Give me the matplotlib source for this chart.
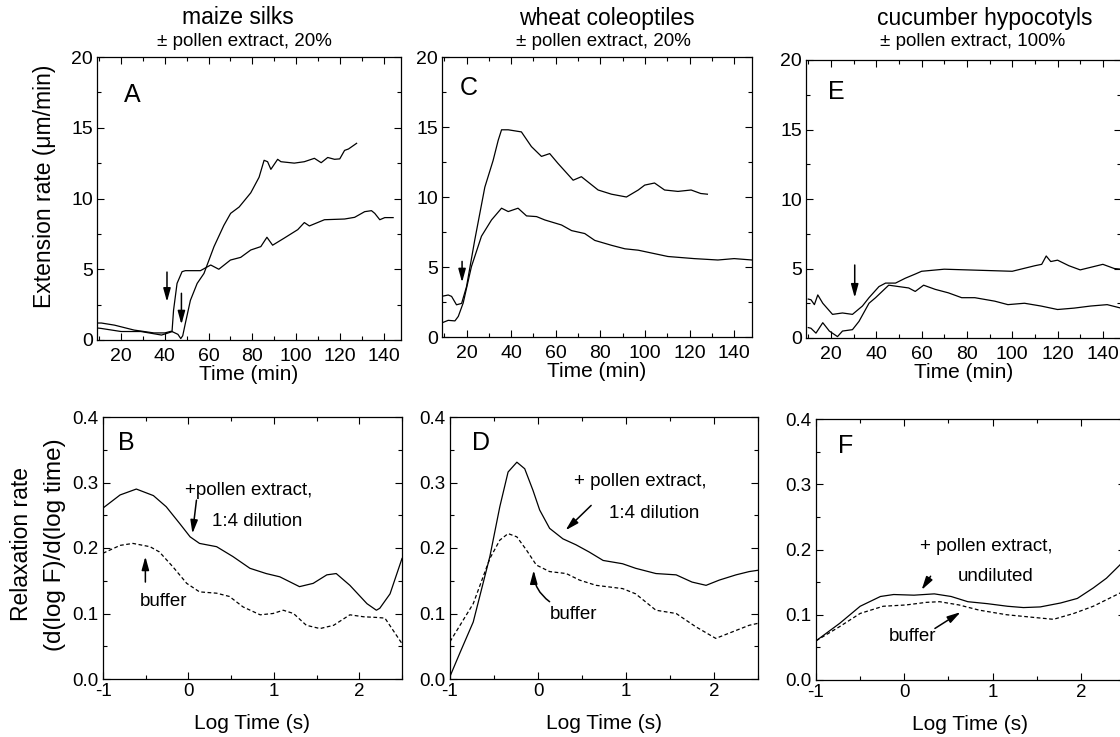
import matplotlib
matplotlib.use("Agg")
import matplotlib.pyplot as plt
from matplotlib.ticker import MultipleLocator, FormatStrFormatter

plt.rcParams['font.family'] = ['Liberation Sans', 'DejaVu Sans']
plt.rcParams['axes.unicode_minus'] = False

# ---- top row: extension rate vs time ----
a_late_t = [9, 11, 17, 26, 35, 40, 43, 46, 47.3, 48.2, 49.4, 51.7, 54.8, 57.9, 62.5, 67, 70.1, 74, 79.3, 83.1, 85.4, 87, 88.5, 91.6, 93.1, 99.2, 103.8, 108.4, 111.5, 114.5, 117.6, 120, 122.2, 124, 127.7]
a_late_v = [1.2, 1.2, 1.05, 0.7, 0.5, 0.5, 0.62, 0.4, 0.1, 0.3, 1.18, 2.8, 4.0, 4.7, 6.6, 8.1, 8.95, 9.4, 10.4, 11.5, 12.7, 12.6, 12.06, 12.77, 12.6, 12.5, 12.6, 12.84, 12.53, 12.9, 12.77, 12.8, 13.4, 13.5, 13.9]
a_early_t = [9, 10.8, 20, 29, 38.5, 41, 43.3, 44, 45.6, 47.9, 49.4, 56.3, 61, 64.7, 70, 74.7, 79.3, 83.9, 86.7, 89.3, 94.6, 100.8, 103.8, 106.1, 113, 122.2, 126.8, 131.4, 134.5, 136, 138.3, 140.6, 144.4]
a_early_v = [0.85, 0.82, 0.6, 0.6, 0.35, 0.47, 0.59, 2.1, 4.0, 4.83, 4.9, 4.9, 5.3, 5.0, 5.65, 5.84, 6.36, 6.6, 7.26, 6.7, 7.2, 7.8, 8.3, 8.06, 8.5, 8.55, 8.67, 9.07, 9.14, 8.95, 8.5, 8.65, 8.65]

c_high_t = [8.8, 11.8, 13.3, 15.5, 17.8, 20, 23.7, 28.2, 31.9, 34.2, 35.7, 38.7, 44.6, 49.1, 53.6, 57.3, 61, 67.8, 71.5, 79, 85, 91.7, 97, 99.9, 104.3, 108.8, 114.8, 120.7, 125, 128]
c_high_v = [2.9, 3.0, 2.9, 2.3, 2.4, 3.6, 6.94, 10.7, 12.6, 14.05, 14.8, 14.8, 14.65, 13.6, 12.9, 13.1, 12.4, 11.2, 11.45, 10.5, 10.2, 10.0, 10.5, 10.85, 11.0, 10.5, 10.4, 10.5, 10.25, 10.2]
c_low_t = [8.8, 11.8, 14.8, 16.3, 18.5, 22.2, 26.7, 31.2, 35.7, 38.7, 43.1, 46.9, 51.4, 55.1, 62.6, 67.1, 73, 77.5, 85, 91, 97, 110.3, 122, 132.7, 140, 148]
c_low_v = [1.0, 1.19, 1.15, 1.47, 2.43, 5.03, 7.2, 8.36, 9.2, 8.96, 9.2, 8.65, 8.6, 8.36, 8.0, 7.6, 7.39, 6.9, 6.55, 6.3, 6.2, 5.75, 5.6, 5.5, 5.6, 5.5]

e_high_t = [10, 11.2, 12.7, 14.2, 16.4, 20.7, 25.1, 29.5, 33.9, 36.8, 41.2, 44.1, 48.5, 52.8, 57.2, 60, 70, 80, 90, 100, 105, 110, 113, 115, 117, 120, 125, 130, 135, 140, 145, 148]
e_high_v = [2.8, 2.75, 2.4, 3.1, 2.5, 1.7, 1.8, 1.7, 2.3, 2.9, 3.7, 3.95, 3.95, 4.3, 4.6, 4.8, 4.95, 4.9, 4.85, 4.8, 5.0, 5.2, 5.3, 5.9, 5.5, 5.6, 5.2, 4.9, 5.1, 5.3, 5.0, 4.95]
e_low_t = [10, 11.2, 13.4, 16.4, 19.3, 22.9, 25.1, 29.5, 32.4, 36.8, 39.7, 45.5, 49.9, 54.3, 57.2, 60.9, 66, 71.8, 77.7, 83.5, 92.3, 98.1, 105.4, 112.7, 120, 127.3, 134.6, 141.9, 148]
e_low_v = [0.75, 0.7, 0.35, 1.1, 0.5, 0.1, 0.5, 0.6, 1.2, 2.5, 2.9, 3.8, 3.7, 3.6, 3.35, 3.8, 3.5, 3.25, 2.9, 2.9, 2.65, 2.4, 2.5, 2.3, 2.05, 2.15, 2.3, 2.4, 2.15]

# ---- bottom row: relaxation rate vs log time ----
b_pollen_x = [-1, -0.8, -0.61, -0.41, -0.26, -0.1, 0.02, 0.13, 0.33, 0.52, 0.72, 0.91, 1.07, 1.3, 1.46, 1.62, 1.73, 1.89, 2.09, 2.2, 2.24, 2.36, 2.5]
b_pollen_y = [0.261, 0.281, 0.29, 0.28, 0.263, 0.237, 0.217, 0.207, 0.202, 0.187, 0.169, 0.161, 0.156, 0.141, 0.146, 0.159, 0.161, 0.143, 0.115, 0.105, 0.108, 0.13, 0.184]
b_buffer_x = [-1, -0.8, -0.65, -0.45, -0.34, -0.18, -0.02, 0.13, 0.33, 0.48, 0.64, 0.84, 0.99, 1.11, 1.23, 1.38, 1.54, 1.7, 1.89, 2.05, 2.2, 2.3, 2.5]
b_buffer_y = [0.192, 0.204, 0.207, 0.202, 0.194, 0.171, 0.146, 0.133, 0.131, 0.126, 0.11, 0.098, 0.1, 0.105, 0.1, 0.082, 0.077, 0.082, 0.098, 0.095, 0.094, 0.093, 0.054]

d_pollen_x = [-1, -0.887, -0.736, -0.547, -0.434, -0.34, -0.24, -0.151, -0.057, 0.019, 0.132, 0.283, 0.43, 0.58, 0.74, 0.96, 1.11, 1.34, 1.57, 1.75, 1.91, 2.06, 2.25, 2.4, 2.5]
d_pollen_y = [0.004, 0.04, 0.087, 0.187, 0.263, 0.316, 0.331, 0.321, 0.288, 0.258, 0.23, 0.214, 0.205, 0.194, 0.181, 0.176, 0.169, 0.161, 0.159, 0.148, 0.143, 0.151, 0.159, 0.164, 0.166]
d_buffer_x = [-1, -0.736, -0.547, -0.434, -0.34, -0.24, -0.132, -0.019, 0.132, 0.321, 0.472, 0.66, 0.962, 1.11, 1.34, 1.57, 1.79, 2.02, 2.21, 2.4, 2.5]
d_buffer_y = [0.057, 0.115, 0.184, 0.212, 0.222, 0.217, 0.197, 0.174, 0.164, 0.161, 0.151, 0.143, 0.138, 0.13, 0.105, 0.1, 0.08, 0.062, 0.072, 0.082, 0.085]

f_pollen_x = [-1, -0.73, -0.5, -0.27, -0.12, 0.11, 0.34, 0.53, 0.72, 0.94, 1.17, 1.35, 1.54, 1.77, 1.96, 2.14, 2.29, 2.44, 2.5]
f_pollen_y = [0.06, 0.087, 0.113, 0.128, 0.131, 0.13, 0.132, 0.128, 0.12, 0.117, 0.113, 0.111, 0.112, 0.118, 0.125, 0.141, 0.156, 0.176, 0.185]
f_buffer_x = [-1, -0.73, -0.5, -0.24, 0.02, 0.25, 0.4, 0.62, 0.85, 1.16, 1.46, 1.69, 1.92, 2.14, 2.44, 2.5]
f_buffer_y = [0.06, 0.082, 0.102, 0.113, 0.115, 0.119, 0.12, 0.115, 0.107, 0.1, 0.096, 0.093, 0.102, 0.113, 0.133, 0.137]

W, H = 1120, 737
fig = plt.figure(figsize=(W / 100, H / 100), dpi=100)


def px_axes(left, right, top, bottom):
    return fig.add_axes([left / W, 1 - bottom / H, (right - left) / W, (bottom - top) / H])


def style(ax, xmaj, xmin, ymaj, ymin, size, xpad):
    ax.xaxis.set_major_locator(MultipleLocator(xmaj))
    ax.xaxis.set_minor_locator(MultipleLocator(xmin))
    ax.yaxis.set_major_locator(MultipleLocator(ymaj))
    ax.yaxis.set_minor_locator(MultipleLocator(ymin))
    ax.tick_params(which='both', direction='in', top=True, right=True, width=0.8)
    ax.tick_params(which='major', length=5, labelsize=size, pad=3)
    ax.tick_params(axis='x', which='major', pad=xpad)
    ax.tick_params(which='minor', length=3)
    for s in ax.spines.values():
        s.set_linewidth(0.9)


line_kw = dict(color='black', lw=0.9)
dash_kw = dict(color='black', lw=0.9, linestyle=(0, (3, 2)))
arr_kw = dict(arrowstyle='-|>,head_length=0.8,head_width=0.22', color='black', lw=1.1,
              mutation_scale=10, shrinkA=0, shrinkB=0)

top_boxes = [(97, 401, 57, 340), (442, 752, 57, 337), (806, 1121, 60, 338)]
top_data = [
    [(a_late_t, a_late_v), (a_early_t, a_early_v)],
    [(c_high_t, c_high_v), (c_low_t, c_low_v)],
    [(e_high_t, e_high_v), (e_low_t, e_low_v)],
]
letters_top = ['A', 'C', 'E']
letter_pos_top = [(21.5, 17.3), (17, 17.8), (18.5, 17.7)]
arrows_top = [
    [((41, 4.8), (41, 2.7)), ((47.6, 3.3), (47.6, 1.1))],
    [((18, 5.4), (18, 3.9))],
    [((30.5, 5.25), (30.5, 2.9))],
]
top_axes = []
for i, box in enumerate(top_boxes):
    ax = px_axes(*box)
    for tt, vv in top_data[i]:
        ax.plot(tt, vv, **line_kw)
    ax.set_xlim(9, 148)
    ax.set_ylim(0, 20)
    style(ax, 20, 10, 5, 2.5, 14, 6)
    ax.set_xlabel('Time (min)', fontsize=15, labelpad=0)
    ax.text(*letter_pos_top[i], letters_top[i], fontsize=18, va='center', ha='left')
    for start, end in arrows_top[i]:
        ax.annotate('', xy=end, xytext=start, arrowprops=arr_kw)
    top_axes.append(ax)
fig.text(45 / W, 1 - 186 / H, 'Extension rate (\u03bcm/min)', rotation=90, fontsize=16.5,
         ha='center', va='center')

bot_boxes = [(103, 402, 417, 679), (450, 758, 417, 679), (816, 1125, 419, 680)]
bot_data = [
    (b_pollen_x, b_pollen_y, b_buffer_x, b_buffer_y),
    (d_pollen_x, d_pollen_y, d_buffer_x, d_buffer_y),
    (f_pollen_x, f_pollen_y, f_buffer_x, f_buffer_y),
]
letters_bot = ['B', 'D', 'F']
letter_pos_bot = [(-0.82, 0.36), (-0.75, 0.36), (-0.75, 0.358)]
labels_bot = [
    [('+pollen extract,', (-0.043, 0.288)), ('1:4 dilution', (0.277, 0.24)), ('buffer', (-0.57, 0.118))],
    [('+ pollen extract,', (0.404, 0.301)), ('1:4 dilution', (0.811, 0.253)), ('buffer', (0.132, 0.098))],
    [('+ pollen extract,', (0.177, 0.205)), ('undiluted', (0.611, 0.158)), ('buffer', (-0.17, 0.066))],
]
arrows_bot = [
    [((0.094, 0.273), (0.047, 0.222), 0.0), ((-0.504, 0.148), (-0.504, 0.187), 0.0)],
    [((0.604, 0.265), (0.313, 0.227), 0.0), ((0.132, 0.118), (-0.049, 0.166), -0.25)],
    [((0.298, 0.159), (0.196, 0.138), 0.0), ((0.347, 0.079), (0.638, 0.104), 0.0)],
]
for i, box in enumerate(bot_boxes):
    ax = px_axes(*box)
    px_, py_, bx_, by_ = bot_data[i]
    ax.plot(px_, py_, **line_kw)
    ax.plot(bx_, by_, **dash_kw)
    ax.set_xlim(-1, 2.5)
    ax.set_ylim(0, 0.4)
    style(ax, 1, 0.5, 0.1, 0.05, 13.5, 3)
    ax.yaxis.set_major_formatter(FormatStrFormatter('%.1f'))
    ax.set_xlabel('Log Time (s)', fontsize=15, labelpad=10)
    ax.text(*letter_pos_bot[i], letters_bot[i], fontsize=18, va='center', ha='left')
    for txt, pos in labels_bot[i]:
        ax.text(*pos, txt, fontsize=13.5, va='center', ha='left')
    for start, end, rad in arrows_bot[i]:
        kw = dict(arr_kw)
        kw['connectionstyle'] = f'arc3,rad={rad}'
        ax.annotate('', xy=end, xytext=start, arrowprops=kw)

fig.text(22 / W, 1 - 544 / H, 'Relaxation rate', rotation=90, fontsize=16.5, ha='center', va='center')
fig.text(55 / W, 1 - 545 / H, '(d(log F)/d(log time)', rotation=90, fontsize=17.5, ha='center', va='center')

titles = ['maize silks', 'wheat coleoptiles', 'cucumber hypocotyls']
subtitles = ['\u00b1 pollen extract, 20%', '\u00b1 pollen extract, 20%', '\u00b1 pollen extract, 100%']
title_x = [238, 607, 985]
sub_x = [244, 603, 973]
for i in range(3):
    fig.text(title_x[i] / W, 1 - 18 / H, titles[i], fontsize=16.5, ha='center', va='center')
    fig.text(sub_x[i] / W, 1 - 42 / H, subtitles[i], fontsize=13.5, ha='center', va='center')

fig.savefig('out.png', dpi=100)
